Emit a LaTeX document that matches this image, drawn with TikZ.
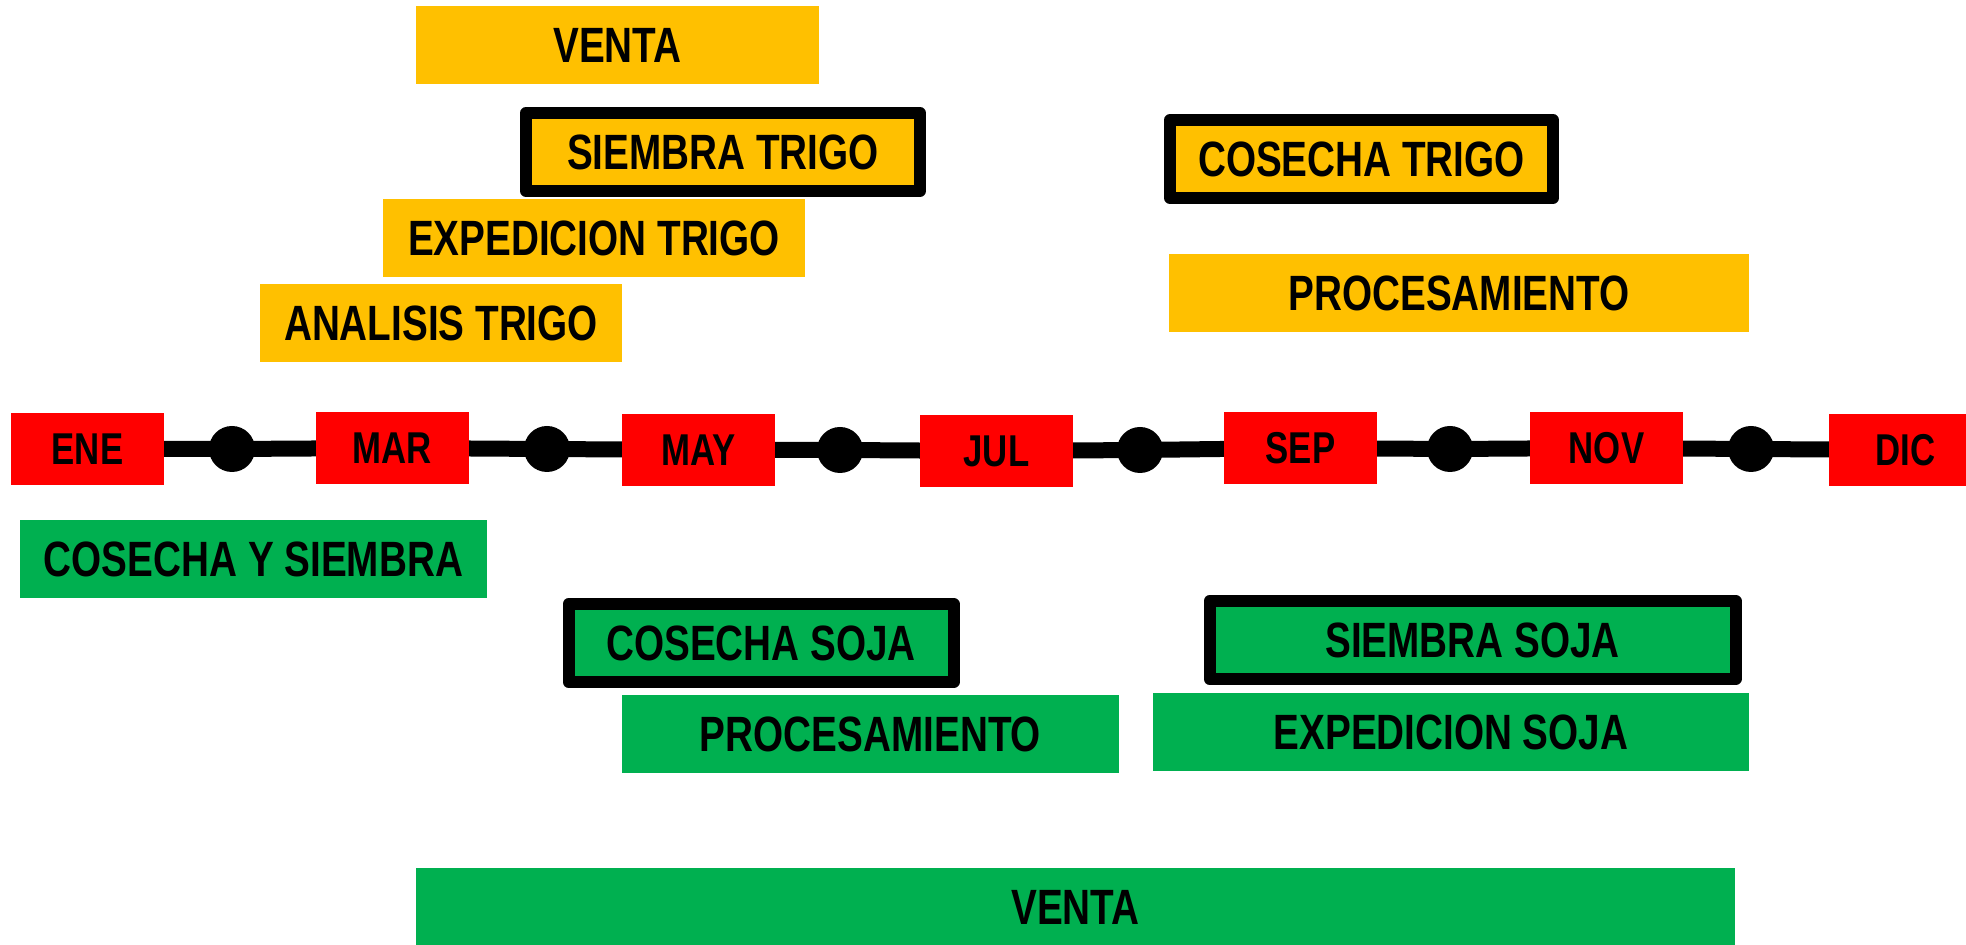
\documentclass[tikz,border=0pt]{standalone}
\usepackage{fontspec}
\newfontfamily\labfont{Liberation Sans}[FakeStretch=0.78]
\usetikzlibrary{backgrounds}
\definecolor{cyel}{HTML}{FFC000}
\definecolor{cgrn}{HTML}{00B050}
\definecolor{cred}{HTML}{FF0000}
\begin{document}
\begin{tikzpicture}[x=0.5pt,y=-0.5pt,
  box/.style={inner sep=0pt, minimum height=39pt, text=black,
    font=\labfont\bfseries\fontsize{24.8}{28}\selectfont},
  ybox/.style={box, fill=cyel},
  gbox/.style={box, fill=cgrn},
  framed/.style={draw=black, line width=6pt, line join=round},
  month/.style={inner sep=0pt, fill=cred, minimum width=76.5pt, minimum height=36pt,
    text=black, font=\labfont\bfseries\fontsize{22.3}{26}\selectfont},
  dot/.style={circle, fill=black, minimum size=23pt, inner sep=0pt},
  axis/.style={line width=8pt, draw=black}]
\useasboundingbox (0,0) rectangle (1966,945);

% yellow (trigo) boxes
\node[ybox, minimum width=201.5pt] (vtaY) at (617.5,45) {VENTA};
\node[ybox, framed, minimum width=197pt] (sieT) at (723,152) {SIEMBRA TRIGO};
\node[ybox, minimum width=211pt] (expT) at (594,238) {EXPEDICION TRIGO};
\node[ybox, minimum width=181pt] (anaT) at (441,323) {ANALISIS TRIGO};
\node[ybox, framed, minimum width=191.5pt] (cosT) at (1361.5,159) {COSECHA TRIGO};
\node[ybox, minimum width=290pt] (proY) at (1459,293) {PROCESAMIENTO};

% months
\node[month] (ene) at (87.5,449) {ENE};
\node[month] (mar) at (392.5,448) {MAR};
\node[month] (may) at (698.5,450) {MAY};
\node[month] (jul) at (996.5,451) {JUL};
\node[month] (sep) at (1300.5,448) {SEP};
\node[month] (nov) at (1606.5,448) {NOV};
\node[month] (dic) at (1905.5,450) {DIC};

% dots
\node[dot] (d1) at (232,449) {};
\node[dot] (d2) at (547,449) {};
\node[dot] (d3) at (840,450) {};
\node[dot] (d4) at (1140,450) {};
\node[dot] (d5) at (1450,449) {};
\node[dot] (d6) at (1751,449) {};

\begin{scope}[on background layer]
  \draw[axis] (ene.center) -- (d1.center) -- (mar.center) -- (d2.center) -- (may.center)
    -- (d3.center) -- (jul.center) -- (d4.center) -- (sep.center) -- (d5.center)
    -- (nov.center) -- (d6.center) -- (dic.center);
\end{scope}

% green (soja) boxes
\node[gbox, minimum width=233.5pt] (cys) at (253.5,559) {COSECHA Y SIEMBRA};
\node[gbox, framed, minimum width=192.5pt] (cosS) at (761,643) {COSECHA SOJA};
\node[gbox, minimum width=248.5pt] (proG) at (870.5,734) {PROCESAMIENTO};
\node[gbox, framed, minimum width=263pt] (sieS) at (1472.5,640) {SIEMBRA SOJA};
\node[gbox, minimum width=298pt] (expS) at (1451,732) {EXPEDICION SOJA};
\node[gbox, minimum width=659.5pt] (vtaG) at (1075.5,907) {VENTA};
\end{tikzpicture}
\end{document}
